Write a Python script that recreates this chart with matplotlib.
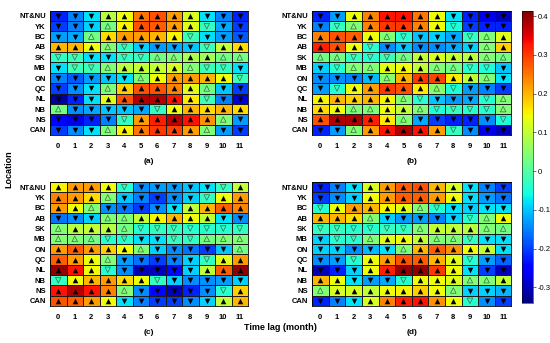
import numpy as np
import matplotlib
matplotlib.use("Agg")
import matplotlib.pyplot as plt

plt.rcParams['font.family'] = ['Liberation Sans', 'DejaVu Sans']

locations = ["NT&NU", "YK", "BC", "AB", "SK", "MB", "ON", "QC", "NL", "NB", "NS", "CAN"]
lags = list(range(12))

# correlation values, rows follow `locations`, columns follow `lags`
corr_a = [
    [-0.22, -0.15, -0.08, 0.09, 0.14, 0.25, 0.28, 0.22, 0.12, -0.08, -0.15, -0.22],
    [-0.20, -0.15, -0.09, 0.03, 0.15, 0.28, 0.27, 0.22, 0.13, -0.03, -0.12, -0.20],
    [-0.13, -0.12, 0.03, 0.17, 0.22, 0.22, 0.20, 0.15, -0.02, -0.08, -0.13, -0.18],
    [0.20, 0.20, 0.14, 0.04, -0.03, -0.09, -0.13, -0.12, -0.10, -0.02, 0.10, 0.17],
    [-0.03, -0.02, -0.08, -0.08, -0.03, -0.03, 0.03, 0.04, 0.08, 0.07, 0.03, 0.03],
    [-0.08, -0.02, -0.02, 0.04, 0.09, 0.10, 0.10, 0.12, 0.04, -0.02, -0.03, -0.08],
    [-0.15, -0.18, -0.13, -0.10, -0.08, 0.04, 0.14, 0.22, 0.22, 0.20, 0.14, -0.02],
    [-0.20, -0.14, -0.08, 0.04, 0.18, 0.28, 0.28, 0.24, 0.13, 0.03, -0.10, -0.20],
    [-0.32, -0.22, -0.08, 0.13, 0.28, 0.38, 0.38, 0.33, 0.16, -0.02, -0.15, -0.28],
    [0.03, -0.14, -0.12, -0.10, -0.10, -0.12, -0.03, 0.14, 0.20, 0.17, 0.20, 0.17],
    [-0.24, -0.27, -0.22, -0.15, -0.03, 0.22, 0.32, 0.37, 0.33, 0.23, 0.04, -0.13],
    [-0.20, -0.14, -0.08, 0.04, 0.15, 0.25, 0.30, 0.29, 0.22, 0.04, -0.13, -0.20],
]
corr_b = [
    [-0.22, -0.13, 0.14, 0.24, 0.33, 0.33, 0.25, 0.14, -0.08, -0.22, -0.27, -0.30],
    [-0.15, -0.03, 0.04, 0.24, 0.30, 0.30, 0.24, 0.14, -0.05, -0.20, -0.22, -0.22],
    [0.24, 0.28, 0.27, 0.14, 0.04, -0.04, -0.10, -0.09, -0.12, -0.03, 0.04, 0.13],
    [0.32, 0.28, 0.14, -0.04, -0.14, -0.10, -0.14, -0.14, -0.12, -0.09, 0.04, 0.18],
    [0.03, 0.03, -0.03, -0.04, -0.02, 0.03, 0.10, 0.12, 0.10, 0.09, 0.04, 0.03],
    [-0.09, -0.04, 0.04, 0.04, 0.13, 0.14, 0.10, 0.04, 0.03, -0.04, -0.05, -0.10],
    [-0.14, -0.14, -0.15, -0.11, 0.05, 0.20, 0.30, 0.29, 0.16, 0.10, 0.04, -0.08],
    [-0.13, -0.04, 0.14, 0.22, 0.30, 0.28, 0.16, 0.05, -0.05, -0.13, -0.15, -0.20],
    [0.15, 0.20, 0.18, 0.20, 0.15, 0.04, -0.04, -0.10, -0.13, -0.12, -0.04, 0.04],
    [0.17, 0.14, 0.04, 0.04, 0.14, 0.10, 0.04, -0.05, -0.03, -0.04, -0.04, 0.04],
    [0.28, 0.38, 0.38, 0.32, 0.16, 0.04, -0.12, -0.20, -0.22, -0.22, -0.14, -0.05],
    [-0.22, -0.13, 0.04, 0.22, 0.33, 0.38, 0.33, 0.22, -0.03, -0.14, -0.27, -0.30],
]
corr_c = [
    [0.15, 0.22, 0.22, 0.14, -0.04, -0.14, -0.13, -0.13, -0.10, -0.08, -0.03, 0.10],
    [0.24, 0.22, 0.17, 0.04, -0.10, -0.15, -0.20, -0.14, -0.09, -0.03, 0.14, 0.22],
    [0.22, 0.14, 0.04, -0.14, -0.16, -0.20, -0.14, -0.08, 0.10, 0.20, 0.27, 0.24],
    [-0.16, -0.14, -0.09, 0.04, 0.04, 0.10, 0.15, 0.20, 0.14, 0.10, -0.08, -0.14],
    [0.04, 0.09, 0.10, 0.09, 0.03, -0.04, -0.03, -0.03, -0.04, -0.04, -0.04, -0.03],
    [0.04, 0.04, 0.03, -0.04, -0.04, -0.08, -0.08, -0.03, -0.03, 0.03, 0.04, 0.04],
    [0.22, 0.27, 0.22, 0.18, 0.14, 0.04, -0.09, -0.14, -0.16, -0.20, -0.10, 0.03],
    [0.27, 0.22, 0.14, 0.04, -0.13, -0.16, -0.20, -0.15, -0.09, -0.03, 0.13, 0.22],
    [0.40, 0.33, 0.14, -0.04, -0.14, -0.30, -0.30, -0.24, -0.09, 0.10, 0.27, 0.40],
    [-0.03, 0.14, 0.20, 0.22, 0.17, 0.14, -0.03, -0.09, -0.14, -0.14, -0.13, -0.09],
    [0.33, 0.38, 0.33, 0.24, 0.04, -0.14, -0.24, -0.30, -0.22, -0.14, -0.04, 0.18],
    [0.28, 0.27, 0.22, 0.14, -0.08, -0.15, -0.20, -0.20, -0.14, -0.09, 0.10, 0.20],
]
corr_d = [
    [-0.22, -0.15, -0.08, 0.12, 0.22, 0.27, 0.28, 0.20, 0.12, -0.08, -0.15, -0.20],
    [-0.20, -0.14, -0.09, 0.14, 0.22, 0.27, 0.27, 0.22, 0.14, -0.08, -0.13, -0.16],
    [-0.04, 0.14, 0.22, 0.20, 0.15, 0.13, 0.04, -0.04, -0.08, -0.09, -0.08, -0.08],
    [0.20, 0.20, 0.17, 0.04, -0.09, -0.13, -0.13, -0.15, -0.09, -0.04, 0.04, 0.14],
    [-0.03, -0.03, -0.04, -0.04, -0.03, -0.03, 0.04, 0.10, 0.10, 0.09, 0.04, 0.03],
    [-0.09, -0.04, -0.04, 0.04, 0.13, 0.14, 0.10, 0.04, 0.04, -0.03, -0.08, -0.08],
    [-0.09, -0.09, -0.14, -0.11, -0.08, 0.04, 0.20, 0.27, 0.23, 0.14, 0.10, -0.08],
    [-0.14, -0.13, -0.04, 0.14, 0.22, 0.28, 0.27, 0.20, 0.13, -0.04, -0.13, -0.17],
    [-0.30, -0.22, -0.09, 0.14, 0.32, 0.40, 0.40, 0.30, 0.14, -0.08, -0.20, -0.30],
    [0.20, 0.14, -0.08, -0.13, -0.12, -0.04, 0.14, 0.14, 0.13, 0.04, 0.04, 0.10],
    [0.04, 0.12, 0.12, 0.10, 0.14, 0.15, 0.18, 0.14, 0.04, -0.09, -0.09, -0.11],
    [-0.22, -0.15, -0.08, 0.12, 0.24, 0.32, 0.33, 0.23, 0.14, -0.04, -0.14, -0.20],
]
panel_tags = ["(a)", "(b)", "(c)", "(d)"]

VMIN, VMAX = -0.34, 0.413
SIG = 0.06  # |r| above this gets a filled triangle

W, H = 550, 343
fig = plt.figure(figsize=(W / 100, H / 100), dpi=100)


def frac(x0, y0, x1, y1):
    # pixel box -> figure fraction rect
    return [x0 / W, 1 - y1 / H, (x1 - x0) / W, (y1 - y0) / H]


boxes = [frac(50, 10.7, 248, 135), frac(312, 10.7, 511.5, 135),
         frac(50, 182, 248, 306), frac(312, 182, 511.5, 306)]
tag_y = [161, 162, 333, 333]

mesh = None
for data, box, tag, ty in zip([corr_a, corr_b, corr_c, corr_d], boxes, panel_tags, tag_y):
    ax = fig.add_axes(box)
    z = np.asarray(data)
    mesh = ax.pcolormesh(np.arange(13) - 0.5, np.arange(13) - 0.5, z,
                         cmap="jet", vmin=VMIN, vmax=VMAX,
                         edgecolors="#1a1a1a", linewidth=0.45)
    cols, rows = np.meshgrid(lags, np.arange(len(locations)))
    sig = np.abs(z) >= SIG
    pos = z > 0
    ms = 16
    ax.scatter(cols[sig & pos], rows[sig & pos], marker="^", s=ms, c="k", linewidths=0)
    ax.scatter(cols[sig & ~pos], rows[sig & ~pos], marker="v", s=ms, c="k", linewidths=0)
    ax.scatter(cols[~sig & pos], rows[~sig & pos], marker="^", s=ms, facecolors="none",
               edgecolors="#3d6b3d", linewidths=0.5)
    ax.scatter(cols[~sig & ~pos], rows[~sig & ~pos], marker="v", s=ms, facecolors="none",
               edgecolors="#3d6b3d", linewidths=0.5)
    ax.set_xlim(-0.5, 11.5)
    ax.set_ylim(11.5, -0.5)
    ax.set_xticks(lags)
    ax.set_xticklabels([str(l) for l in lags], fontsize=5.5, fontweight="bold")
    ax.set_yticks(range(len(locations)))
    ax.set_yticklabels(locations, fontsize=5.5, fontweight="bold")
    ax.tick_params(length=0, pad=3)
    ax.tick_params(axis="x", pad=6)
    for s in ax.spines.values():
        s.set_linewidth(0.6)
    cx = (box[0] + box[2] / 2)
    fig.text(cx, 1 - ty / H, tag, ha="center", va="center", fontsize=6, fontweight="bold")

cax = fig.add_axes(frac(521.7, 11, 532.5, 303))
cb = fig.colorbar(mesh, cax=cax, ticks=[-0.3, -0.2, -0.1, 0, 0.1, 0.2, 0.3, 0.4])
cb.ax.set_yticklabels(["-0.3", "-0.2", "-0.1", "0", "0.1", "0.2", "0.3", "0.4"])
cb.ax.tick_params(labelsize=5.5, length=2, width=0.4, pad=1.5)
cb.outline.set_linewidth(0.4)

fig.text(9 / W, 1 - 169 / H, "Location", rotation=90, ha="center", va="center",
         fontsize=6.5, fontweight="bold")
fig.text(280 / W, 1 - 327 / H, "Time lag (month)", ha="center", va="center",
         fontsize=6.5, fontweight="bold")

fig.savefig("out.png", dpi=100)
